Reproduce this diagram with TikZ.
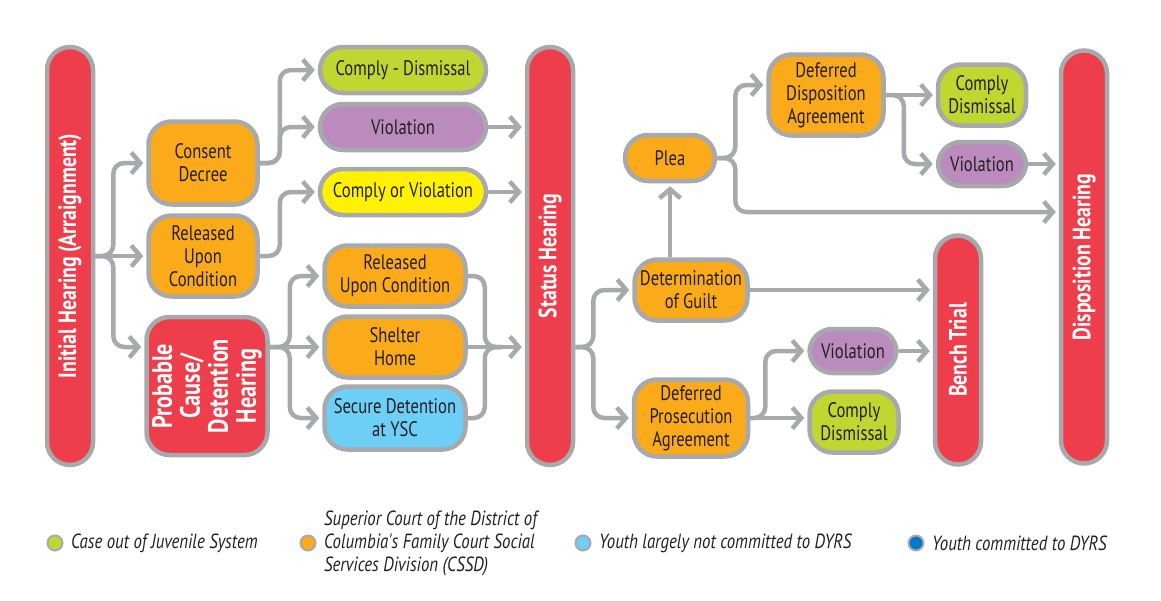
\documentclass[tikz,border=0pt]{standalone}
\usepackage{fontspec}
\setmainfont[FakeStretch=0.79]{PT Sans}
\newfontfamily\legfont[FakeStretch=0.82]{PT Sans}
\usetikzlibrary{arrows.meta}
\definecolor{lgray}{HTML}{A7A9AC}
\definecolor{cred}{HTML}{EE3E4C}
\definecolor{corange}{HTML}{FBAA19}
\definecolor{cgreen}{HTML}{BFD730}
\definecolor{cpurple}{HTML}{BB8BBE}
\definecolor{cyellow}{HTML}{FFF200}
\definecolor{cblue}{HTML}{6DCFF6}
\definecolor{cdblue}{HTML}{0077C8}
\definecolor{ctext}{HTML}{231F20}
\tikzset{
  box/.style={draw=lgray, line width=4.5pt, rounded corners=23pt, align=center,
    text=ctext, inner sep=0pt, font=\fontsize{21}{23}\selectfont},
  obox/.style={box, fill=corange},
  gbox/.style={box, fill=cgreen},
  pbox/.style={box, fill=cpurple},
  bar/.style={draw=lgray, line width=4.5pt, rounded corners=23pt, fill=cred, inner sep=0pt},
  bartext/.style={rotate=90, text=white, align=center, inner sep=0pt,
    font=\fontsize{25}{28}\selectfont\bfseries},
  arr/.style={draw=lgray, line width=4.5pt, rounded corners=11pt,
    -{Straight Barb[length=9pt,width=21pt]}, shorten >=3pt},
  conn/.style={draw=lgray, line width=4.5pt, rounded corners=11pt},
  legdot/.style={circle, draw=lgray, line width=2pt, minimum size=15pt, inner sep=0pt},
  legtext/.style={anchor=west, align=left, text=ctext, inner sep=0pt,
    font=\legfont\fontsize{20.5}{23}\selectfont\itshape},
}
\begin{document}
\begin{tikzpicture}[x=1pt, y=-1pt]
\path[use as bounding box] (0,0) rectangle (1161,600);

% bars
\node[bar, minimum width=46pt, minimum height=418pt] (ih) at (70,256) {};
\node[bartext] (ihl) at (ih.center) {Initial Hearing (Arraignment)};
\node[bar, minimum width=46pt, minimum height=418pt] (st) at (550,256) {};
\node[bartext] (stl) at (st.center) {Status Hearing};
\node[bar, minimum width=46pt, minimum height=413pt] (dh) at (1084,257) {};
\node[bartext] (dhl) at (dh.center) {Disposition Hearing};
\node[bar, minimum width=46pt, minimum height=229pt] (bt) at (958,350) {};
\node[bartext] (btl) at (bt.center) {Bench Trial};

% first column
\node[obox, minimum width=109pt, minimum height=83pt] (cd) at (203,163) {Consent\\Decree};
\node[obox, minimum width=109pt, minimum height=81pt] (rl) at (203,256) {Released\\Upon\\Condition};
\node[bar, minimum width=121pt, minimum height=138pt] (pc) at (207,386) {};
\node[bartext, font=\fontsize{28}{28}\selectfont\bfseries] (pcl) at (pc.center) {Probable\\Cause/\\Detention\\Hearing};

% second column
\node[gbox, minimum width=166pt, minimum height=46pt] (cdm) at (403,70) {Comply - Dismissal};
\node[pbox, minimum width=166pt, minimum height=46pt] (vt) at (403,127) {Violation};
\node[box, fill=cyellow, minimum width=166pt, minimum height=46pt] (cov) at (403,192) {Comply or Violation};
\node[obox, minimum width=141pt, minimum height=61pt] (rr) at (395,276) {Released\\Upon Condition};
\node[obox, minimum width=141pt, minimum height=61pt] (sh) at (395,347) {Shelter\\Home};
\node[box, fill=cblue, minimum width=141pt, minimum height=63pt] (sd) at (395,418) {Secure Detention\\at YSC};

% right part
\node[obox, minimum width=90pt, minimum height=46pt] (plea) at (670,158) {Plea};
\node[obox, minimum width=115pt, minimum height=81pt] (dda) at (826,95) {Deferred\\Disposition\\Agreement};
\node[gbox, minimum width=88pt, minimum height=61pt] (ct) at (982,95) {Comply\\Dismissal};
\node[pbox, minimum width=88pt, minimum height=44pt] (vr) at (982,164) {Violation};
\node[obox, minimum width=113pt, minimum height=61pt] (dg) at (691,290) {Determination\\of Guilt};
\node[obox, minimum width=114pt, minimum height=77pt] (dpa) at (691,418) {Deferred\\Prosecution\\Agreement};
\node[pbox, minimum width=87pt, minimum height=44pt] (vl) at (853,351) {Violation};
\node[gbox, minimum width=89pt, minimum height=61pt] (cl) at (854,422) {Comply\\Dismissal};

% connectors: initial hearing
\draw[arr] (ih.east) -- ++(18,0) |- (cd.west);
\draw[arr] (ih.east) -- (rl.west);
\draw[arr] (ih.east) -- ++(18,0) |- (pc.west |- sh.west);
% consent decree / released
\draw[arr] (cd.east) -- ++(20,0) |- (cdm.west);
\draw[arr] (cd.east) -- ++(20,0) |- (vt.west);
\draw[arr] (rl.east) -- ++(20,0) |- (cov.west);
% probable cause
\draw[arr] (pc.east |- sh.west) -- ++(20,0) |- (rr.west);
\draw[arr] (pc.east |- sh.west) -- (sh.west);
\draw[arr] (pc.east |- sh.west) -- ++(20,0) |- (sd.west);
% into status hearing
\draw[arr] (vt.east) -- (vt.east -| st.west);
\draw[arr] (cov.east) -- (cov.east -| st.west);
\draw[conn] (rr.east) -- ++(17,0) |- ([xshift=34pt]sh.east);
\draw[conn] (sd.east) -- ++(17,0) |- ([xshift=34pt]sh.east);
\draw[arr] (sh.east) -- (sh.east -| st.west);
% status hearing out
\draw[arr] (st.east |- sh.east) -- ++(18,0) |- (dg.west);
\draw[arr] (st.east |- sh.east) -- ++(18,0) |- (dpa.west);
% determination
\draw[arr] (plea.south |- dg.north) -- (plea.south);
\draw[arr] (dg.east) -- (dg.east -| bt.west);
% plea
\draw[arr] (plea.east) -- ++(18,0) |- ([yshift=10pt]dda.west);
\draw[arr] (plea.east) -- ++(18,0) |- ([yshift=45pt]dh.west);
% DDA
\draw[arr] (dda.east) -- (dda.east -| ct.west);
\draw[arr] (dda.east) -- ++(18,0) |- (vr.west);
\draw[arr] (vr.east) -- (vr.east -| dh.west);
% DPA
\draw[arr] (dpa.east) -- ++(15,0) |- (vl.west);
\draw[arr] (dpa.east) -- (dpa.east -| cl.west);
\draw[arr] (vl.east) -- (vl.east -| bt.west);

% legend
\node[legdot, fill=cgreen] (lg1) at (55,543) {};
\node[legtext] (lt1) at (71,543) {Case out of Juvenile System};
\node[legdot, fill=corange] (lg2) at (308,543) {};
\node[legtext] (lt2) at (324,543) {Superior Court of the District of\\Columbia's Family Court Social\\Services Division (CSSD)};
\node[legdot, fill=cblue] (lg3) at (583,543) {};
\node[legtext] (lt3) at (599,543) {Youth largely not committed to DYRS};
\node[legdot, fill=cdblue] (lg4) at (916,543) {};
\node[legtext] (lt4) at (932,543) {Youth committed to DYRS};
\end{tikzpicture}
\end{document}
